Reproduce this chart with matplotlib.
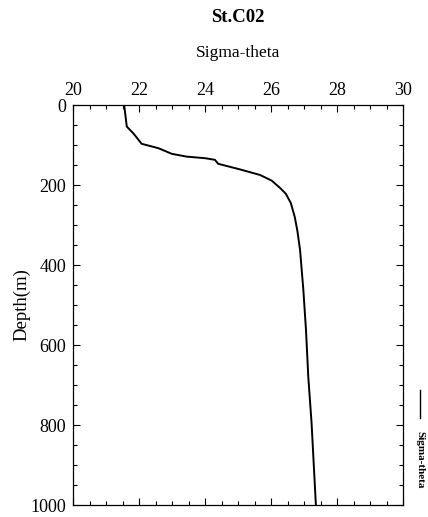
import numpy as np
import matplotlib
matplotlib.use('Agg')
import matplotlib.pyplot as plt
from matplotlib.ticker import MultipleLocator

plt.rcParams['font.family'] = ['Liberation Serif', 'DejaVu Serif']

# profile
sigma = [21.55, 21.63, 21.83, 22.08, 22.59, 22.99, 23.44, 24.0, 24.3, 24.4,
         25.06, 25.67, 26.02, 26.27, 26.45, 26.6, 26.72, 26.8, 26.88, 26.98,
         27.06, 27.13, 27.23, 27.36]
depth = [0, 54, 71, 97, 108, 122, 129, 133, 137, 147,
         161, 175, 189, 207, 222, 245, 280, 315, 362, 462,
         562, 680, 796, 1000]

x_ticks = [20, 22, 24, 26, 28, 30]
y_ticks = [0, 200, 400, 600, 800, 1000]

W, H = 428, 517
fig = plt.figure(figsize=(W / 100, H / 100), dpi=100)
ax = fig.add_axes([73 / W, 1 - 505 / H, 330 / W, 400 / H])

ax.plot(sigma, depth, color='black', lw=1.4, label='Sigma-theta')

ax.set_xlim(20, 30)
ax.set_ylim(1000, 0)
ax.set_xticks(x_ticks)
ax.set_yticks(y_ticks)
ax.xaxis.set_minor_locator(MultipleLocator(0.5))
ax.yaxis.set_minor_locator(MultipleLocator(50))
ax.xaxis.tick_top()
ax.tick_params(which='both', direction='in', top=True, bottom=True,
               left=True, right=True, labelsize=13, width=0.8)
ax.tick_params(which='major', length=5)
ax.tick_params(which='minor', length=3)
ax.tick_params(axis='x', pad=4)
ax.tick_params(axis='y', pad=5)
for s in ax.spines.values():
    s.set_linewidth(0.9)

ax.set_ylabel('Depth(m)', fontsize=13.5)
ax.yaxis.set_label_coords(-0.13, 0.5)

fig.text(238 / W, 1 - 17 / H, 'St.C02', ha='center', va='center',
         fontsize=13.5, fontweight='bold')
fig.text(238 / W, 1 - 53 / H, 'Sigma-theta', ha='center', va='center',
         fontsize=12.5)

# legend outside on the right, rotated
fig.add_artist(plt.Line2D([420 / W, 420 / W], [1 - 390 / H, 1 - 418 / H],
                          color='black', lw=1))
fig.text(420 / W, 1 - 460 / H, 'Sigma-theta', rotation=-90, ha='center',
         va='center', fontsize=8, fontweight='bold')

fig.savefig('out.png', dpi=100)
